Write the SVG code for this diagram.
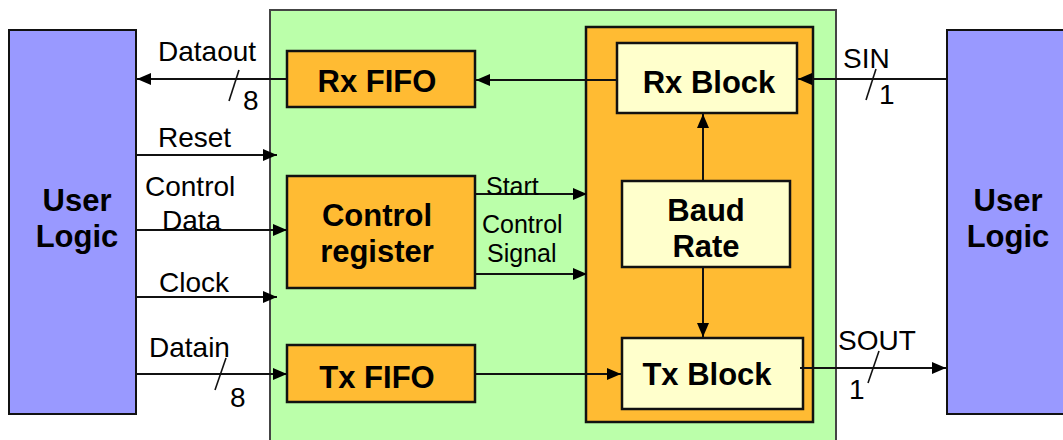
<svg xmlns="http://www.w3.org/2000/svg" width="1063" height="440" viewBox="0 0 1063 440">
<defs>
<style>
.ul{fill:#9999FF;stroke:#111;stroke-width:2}
.org{fill:#FFBB33;stroke:#111;stroke-width:2.5}
.yel{fill:#FFFFCC;stroke:#111;stroke-width:2.5}
.ln{stroke:#111;stroke-width:2;fill:none}
.sl{stroke:#111;stroke-width:1.6;fill:none}
.b{font-family:"Liberation Sans",Arial,sans-serif;font-weight:bold;font-size:31px;fill:#000;text-anchor:middle}
.t{font-family:"Liberation Sans",Arial,sans-serif;font-size:28px;fill:#000}
.s{font-family:"Liberation Sans",Arial,sans-serif;font-size:25px;fill:#000}
</style>
<marker id="ah" viewBox="0 0 14 12" refX="14" refY="6" markerWidth="14" markerHeight="12" markerUnits="userSpaceOnUse" orient="auto">
<path d="M0,0 L14,6 L0,12 Z" fill="#000"/>
</marker>
</defs>
<g id="bus">
<rect x="270" y="10" width="566" height="440" fill="#BBFFAA" stroke="#444" stroke-width="2"/>
</g>
<g id="userlogic-left">
<rect class="ul" x="9" y="30" width="127" height="384"/>
<text class="b" x="77" y="211">User</text>
<text class="b" x="77" y="247">Logic</text>
</g>
<g id="userlogic-right">
<rect class="ul" x="947" y="30" width="130" height="384"/>
<text class="b" x="1008" y="211">User</text>
<text class="b" x="1008" y="247">Logic</text>
</g>
<g id="uart">
<rect class="org" x="586" y="27" width="227" height="395"/>
</g>
<g id="rxfifo">
<rect class="org" x="287" y="51" width="188" height="56"/>
<text class="b" x="377" y="92">Rx FIFO</text>
</g>
<g id="ctrlreg">
<rect class="org" x="287" y="176" width="188" height="112"/>
<text class="b" x="377" y="226">Control</text>
<text class="b" x="377" y="262">register</text>
</g>
<g id="txfifo">
<rect class="org" x="287" y="345" width="188" height="57"/>
<text class="b" x="377" y="388">Tx FIFO</text>
</g>
<g id="rxblock">
<rect class="yel" x="617" y="43" width="180" height="70"/>
<text class="b" x="709" y="93">Rx Block</text>
</g>
<g id="baud">
<rect class="yel" x="622" y="181" width="168" height="86"/>
<text class="b" x="706" y="221">Baud</text>
<text class="b" x="706" y="257">Rate</text>
</g>
<g id="txblock">
<rect class="yel" x="622" y="338" width="181" height="71"/>
<text class="b" x="707" y="385">Tx Block</text>
</g>
<g id="connectors">
<line class="ln" x1="287" y1="79" x2="137" y2="79" marker-end="url(#ah)"/>
<line class="ln" x1="617" y1="80" x2="476" y2="80" marker-end="url(#ah)"/>
<line class="ln" x1="946" y1="79" x2="798" y2="79" marker-end="url(#ah)"/>
<line class="ln" x1="136" y1="155" x2="277" y2="155" marker-end="url(#ah)"/>
<line class="ln" x1="136" y1="230" x2="287" y2="230" marker-end="url(#ah)"/>
<line class="ln" x1="136" y1="297" x2="277" y2="297" marker-end="url(#ah)"/>
<line class="ln" x1="136" y1="374" x2="287" y2="374" marker-end="url(#ah)"/>
<line class="ln" x1="475" y1="194" x2="587" y2="194" marker-end="url(#ah)"/>
<line class="ln" x1="475" y1="274" x2="587" y2="274" marker-end="url(#ah)"/>
<line class="ln" x1="475" y1="374" x2="621" y2="374" marker-end="url(#ah)"/>
<line class="ln" x1="703" y1="181" x2="703" y2="114" marker-end="url(#ah)"/>
<line class="ln" x1="703" y1="267" x2="703" y2="337" marker-end="url(#ah)"/>
<line class="ln" x1="800" y1="368" x2="946" y2="368" marker-end="url(#ah)"/>
<line class="sl" x1="239" y1="70" x2="229" y2="101"/>
<line class="sl" x1="876" y1="69" x2="866" y2="100"/>
<line class="sl" x1="226" y1="358" x2="215" y2="390"/>
<line class="sl" x1="879" y1="351" x2="868" y2="383"/>
</g>
<g id="labels">
<text class="t" x="158" y="61">Dataout</text>
<text class="t" x="243" y="110">8</text>
<text class="t" x="158" y="147">Reset</text>
<text class="t" x="145" y="196">Control</text>
<text class="t" x="162" y="230">Data</text>
<text class="t" x="159" y="292">Clock</text>
<text class="t" x="149" y="357">Datain</text>
<text class="t" x="230" y="407">8</text>
<text class="s" x="486" y="195">Start</text>
<text class="s" x="482" y="233">Control</text>
<text class="s" x="487" y="262">Signal</text>
<text class="t" x="843" y="68">SIN</text>
<text class="t" x="879" y="104">1</text>
<text class="t" x="838" y="350">SOUT</text>
<text class="t" x="849" y="399">1</text>
</g>
</svg>
